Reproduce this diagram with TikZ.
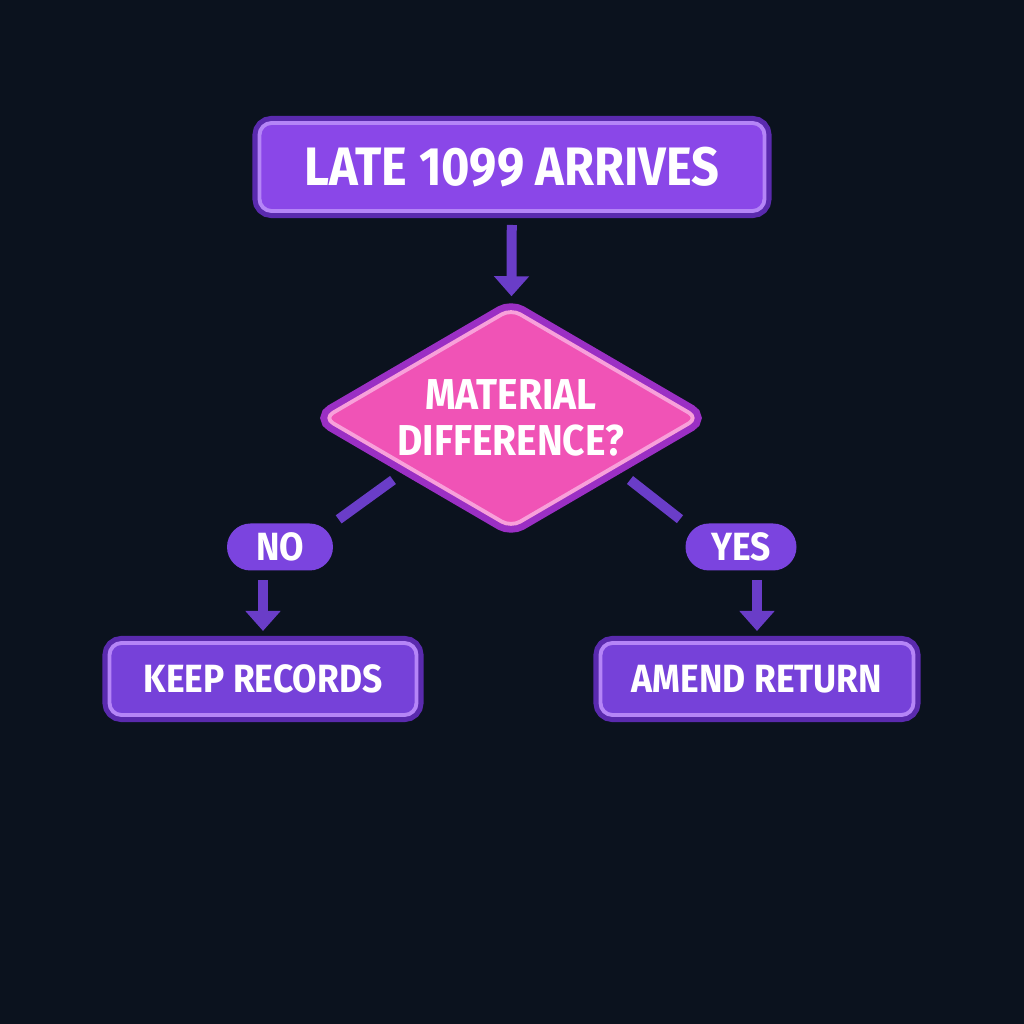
\documentclass[tikz,border=0pt]{standalone}
\usepackage{fontspec}
\setmainfont{Fira Sans}[FakeStretch=0.9]
\usetikzlibrary{arrows.meta,%
                shapes.geometric}

\definecolor{bgnavy}{HTML}{0B121E}
\definecolor{boxfill}{HTML}{8A47E8}
\definecolor{boxdark}{HTML}{7641D9}
\definecolor{boxedge}{HTML}{5A2AAE}
\definecolor{boxlight}{HTML}{B585F7}
\definecolor{flowcol}{HTML}{6A3DC8}
\definecolor{decfill}{HTML}{F053B6}
\definecolor{decedge}{HTML}{9B2FC4}
\definecolor{declight}{HTML}{F8A0DA}
\definecolor{pillfill}{HTML}{7B44DF}

\begin{document}
\begin{tikzpicture}[x=1cm,y=1cm,
		every node/.style={outer sep=0pt,text=white,font=\bfseries},
		stepbox/.style={rectangle,rounded corners=0.12cm,fill=boxdark,
			preaction={draw=boxedge,line width=4pt},draw=boxlight,line width=1.1pt,
			font=\bfseries\fontsize{11.2}{12}\selectfont},
		decbox/.style={diamond,aspect=1.7,inner sep=0pt,minimum width=3.74cm,minimum height=2.18cm,
			rounded corners=3pt,fill=decfill,
			preaction={draw=decedge,line width=5pt},draw=declight,line width=1.1pt,
			align=center,font=\bfseries\fontsize{12.3}{13.2}\selectfont},
		pill/.style={rectangle,rounded corners=0.235cm,minimum width=1.06cm,minimum height=0.47cm,
			inner sep=0pt,fill=pillfill,font=\bfseries\fontsize{11.2}{12}\selectfont},
		flow/.style={draw=flowcol,line width=0.1cm,-{Triangle[width=0.34cm,length=0.2cm]}},
		branch/.style={draw=flowcol,line width=0.1cm}]
		% background
		\fill[bgnavy] (0,0) rectangle (10.24,10.24);
		%\draw[help lines,step=1] (0,0) grid (10.24,10.24);
		\node[stepbox,fill=boxfill,minimum width=5.05cm,minimum height=0.88cm,
			font=\bfseries\fontsize{15.4}{16}\selectfont] (late) at (5.12,8.57) {LATE 1099 ARRIVES};
		\node[decbox] (dec) at (5.11,6.06) {MATERIAL\\DIFFERENCE?};
		\coordinate (nostub) at (3.93,5.44);
		\coordinate (yesstub) at (6.30,5.44);
		\node[pill] (no) at (2.80,4.77) {NO};
		\node[pill,minimum width=1.11cm] (yes) at (7.41,4.77) {YES};
		\node[stepbox,minimum width=3.07cm,minimum height=0.72cm] (keep) at (2.63,3.45) {KEEP RECORDS};
		\node[stepbox,minimum width=3.13cm,minimum height=0.72cm] (amend) at (7.57,3.45) {AMEND RETURN};
		% branches
		\draw[branch,shorten >=0.07cm] (nostub) -- (no.north east);
		\draw[branch,shorten >=0.07cm] (yesstub) -- (yes.north west);
		% arrows
		\draw[flow,shorten <=0.14cm,shorten >=0.13cm] (late) -- (dec);
		\draw[flow,shorten <=0.10cm,shorten >=0.12cm] (no.south -| keep.north) -- (keep.north);
		\draw[flow,shorten <=0.10cm,shorten >=0.12cm] (yes.south -| amend.north) -- (amend.north);
	\end{tikzpicture}
\end{document}
